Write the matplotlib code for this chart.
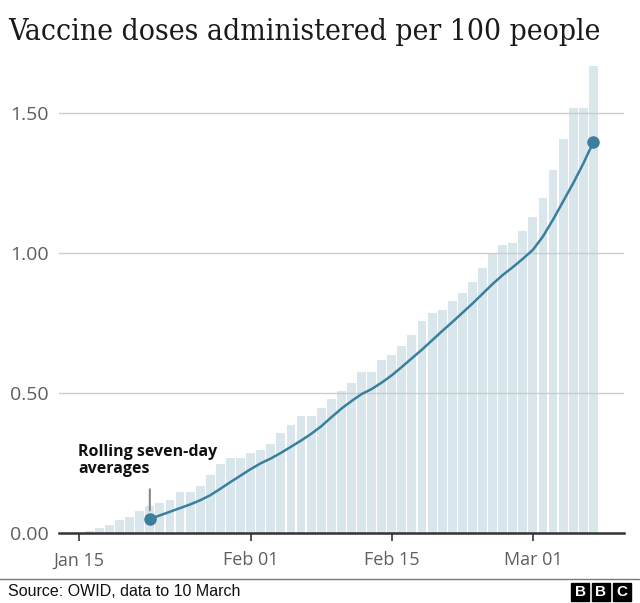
import numpy as np
import pandas as pd
import matplotlib
matplotlib.use("Agg")
from matplotlib import pyplot as plt
from matplotlib.patches import Rectangle

# daily doses per 100 people (bars), Jan 16 - Mar 07
bar_dates = pd.date_range("2021-01-16", "2021-03-07")
bar_values = [0.009, 0.019, 0.029, 0.048, 0.058, 0.079, 0.097, 0.108, 0.119, 0.149,
              0.149, 0.169, 0.208, 0.248, 0.269, 0.269, 0.287, 0.298, 0.318, 0.358,
              0.388, 0.418, 0.418, 0.448, 0.478, 0.508, 0.537, 0.577, 0.577, 0.618,
              0.638, 0.669, 0.708, 0.757, 0.787, 0.798, 0.828, 0.858, 0.899, 0.948,
              1.000, 1.028, 1.036, 1.079, 1.129, 1.198, 1.296, 1.407, 1.520, 1.520,
              1.668]

# rolling seven-day average, Jan 22 - Mar 07
avg_dates = pd.date_range("2021-01-22", "2021-03-07")
avg_values = [0.051, 0.064, 0.077, 0.090, 0.103, 0.118, 0.136, 0.159, 0.183, 0.206,
              0.229, 0.250, 0.267, 0.287, 0.309, 0.331, 0.355, 0.382, 0.414, 0.445,
              0.472, 0.497, 0.515, 0.538, 0.564, 0.594, 0.625, 0.656, 0.689, 0.722,
              0.754, 0.787, 0.820, 0.855, 0.890, 0.922, 0.950, 0.980, 1.012, 1.060,
              1.120, 1.185, 1.250, 1.320, 1.397]

y_ticks = [0.0, 0.5, 1.0, 1.5]
y_tick_labels = ["0.00", "0.50", "1.00", "1.50"]
x_ticks = pd.to_datetime(["2021-01-15", "2021-02-01", "2021-02-15", "2021-03-01"])
x_tick_labels = ["Jan 15", "Feb 01", "Feb 15", "Mar 01"]

bar_col = "#d9e6eb"
line_col = "#3a7f9e"
grey = "#5f5f5f"

fig = plt.figure(figsize=(6.4, 6.03), dpi=100)
ax = fig.add_axes([59 / 640, 1 - 533.3 / 603, 565 / 640, 473.3 / 603])

ax.bar(bar_dates, bar_values, width=0.88, color=bar_col, zorder=1)
for y in y_ticks[1:]:
    ax.axhline(y, color="#cccccc", lw=1, zorder=2)
ax.plot(avg_dates, avg_values, color=line_col, lw=1.8, zorder=3, solid_capstyle="round")
ax.plot([avg_dates[0], avg_dates[-1]], [avg_values[0], avg_values[-1]], "o",
        color=line_col, ms=8, zorder=4)

ax.set_xlim(pd.Timestamp("2021-01-15") - pd.Timedelta(days=2.01),
            pd.Timestamp("2021-01-15") + pd.Timedelta(days=54.04))
ax.set_ylim(0, 1.69)

for s in ["top", "right", "left"]:
    ax.spines[s].set_visible(False)
ax.spines["bottom"].set_color("#333333")
ax.spines["bottom"].set_linewidth(1.8)
ax.spines["bottom"].set_zorder(5)

ax.set_yticks(y_ticks)
ax.set_yticklabels(y_tick_labels, fontsize=14, color=grey, family="Open Sans", ha="left")
ax.tick_params(axis="y", length=0, pad=35)
ax.set_xticks(x_ticks)
ax.set_xticklabels(x_tick_labels, fontsize=13, color=grey, family="Open Sans")
ax.tick_params(axis="x", length=6, width=1.2, color="#333333", pad=7)

# annotation
ax.annotate("", xy=(pd.Timestamp("2021-01-22"), 0.072), xytext=(pd.Timestamp("2021-01-22"), 0.167),
            arrowprops=dict(arrowstyle="-", color="#888888", lw=1.5))
fig.text(78 / 640, 1 - 473 / 603, "Rolling seven-day\naverages", fontsize=11.5,
         fontweight="bold", family="Open Sans", color="#111111", va="baseline",
         linespacing=1.05)

# title
fig.text(8 / 640, 1 - 40 / 603, "Vaccine doses administered per 100 people",
         fontsize=21.5, family="DejaVu Serif", fontstretch="condensed",
         color="#1a1a1a", va="baseline")

# footer
fig.add_artist(plt.Line2D([0, 1], [1 - 579 / 603, 1 - 579 / 603], color="#777777", lw=1))
fig.text(8 / 640, 1 - 592 / 603, "Source: OWID, data to 10 March", fontsize=11.5,
         family="Liberation Sans", color="#111111", va="center")
for i, letter in enumerate("BBC"):
    x0 = 571 + i * 21
    fig.add_artist(Rectangle((x0 / 640, 1 - 601 / 603), 18 / 640, 18 / 603,
                             color="black", transform=fig.transFigure))
    fig.text((x0 + 9) / 640, 1 - 592 / 603, letter, fontsize=11, fontweight="bold",
             family="Liberation Sans", color="white", ha="center", va="center")

fig.savefig("out.png", dpi=100)
